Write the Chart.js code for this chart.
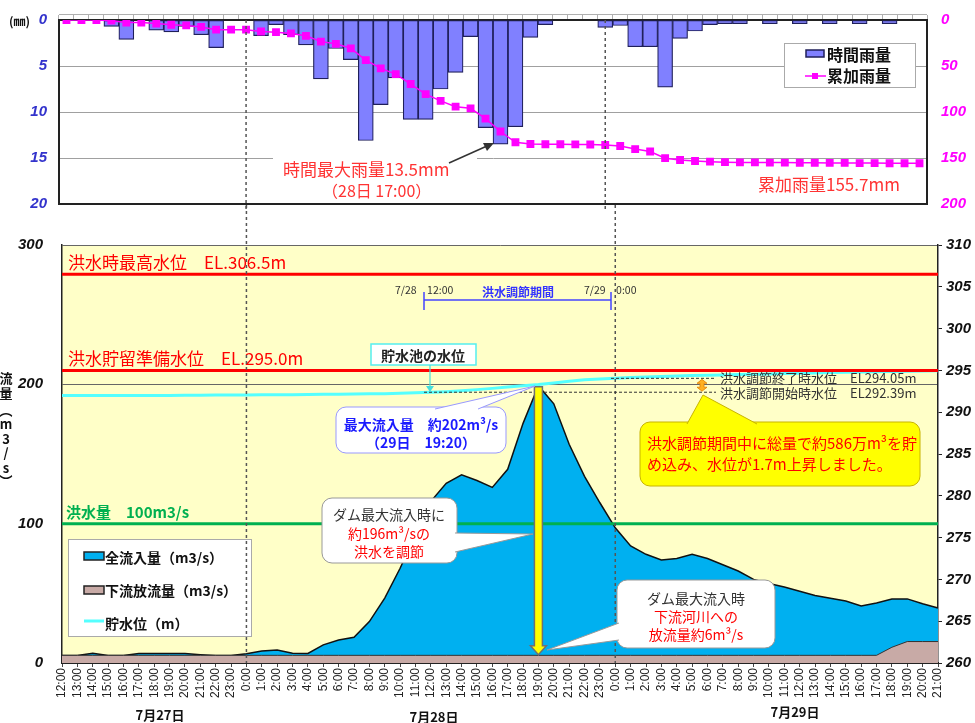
<!DOCTYPE html>
<html>
<head>
<meta charset="utf-8">
<script src="https://cdn.jsdelivr.net/npm/chart.js@4.4.1/dist/chart.umd.min.js"></script>
<style>
  body { margin: 0; background: #fff; width: 975px; height: 723px; overflow: hidden; position: relative; }
  #rain { position: absolute; left: 0; top: 0; }
  #flow { position: absolute; left: 0; top: 205px; }
</style>
</head>
<body>
<canvas id="rain" width="975" height="210"></canvas>
<canvas id="flow" width="975" height="518"></canvas>
<script>
// 7/27 12:00 - 7/29 21:00, hourly
var hours = [
  "12:00","13:00","14:00","15:00","16:00","17:00","18:00","19:00","20:00","21:00","22:00","23:00",
  "0:00","1:00","2:00","3:00","4:00","5:00","6:00","7:00","8:00","9:00","10:00","11:00",
  "12:00","13:00","14:00","15:00","16:00","17:00","18:00","19:00","20:00","21:00","22:00","23:00",
  "0:00","1:00","2:00","3:00","4:00","5:00","6:00","7:00","8:00","9:00","10:00","11:00",
  "12:00","13:00","14:00","15:00","16:00","17:00","18:00","19:00","20:00","21:00"
];
var dayLabels = ["7月27日", "7月28日", "7月29日"];

// hourly rainfall (mm)
var hourlyRain = [
  0, 0, 0, 0.7, 2.1, 0, 1.1, 1.3, 0.7, 1.6, 3.0, 0,
  0, 1.7, 0.5, 1.6, 2.7, 6.4, 3.1, 4.3, 13.1, 9.2, 6.3, 10.8,
  10.8, 7.5, 5.7, 1.8, 11.7, 13.5, 11.6, 1.9, 0.5, 0, 0, 0,
  0.8, 0.6, 2.9, 2.9, 7.3, 2.0, 1.2, 0.5, 0.4, 0.4, 0, 0.4,
  0, 0.4, 0, 0.4, 0, 0.4, 0, 0.4, 0, 0
];
// cumulative rainfall (mm)
var cumRain = [
  0, 0, 0, 0.7, 2.8, 2.8, 3.9, 5.2, 5.9, 7.5, 10.5, 10.5,
  10.5, 12.5, 13.2, 14.6, 17.2, 23.5, 25.9, 30.8, 43.6, 52.6, 58.8, 69.6,
  80.6, 87.9, 94.2, 96.0, 107.2, 121.2, 132.9, 134.8, 135.1, 135.1, 135.2, 135.3,
  135.9, 137.0, 140.3, 142.9, 150.2, 152.2, 153.3, 154.0, 154.5, 154.8, 154.8, 155.0,
  155.0, 155.2, 155.2, 155.3, 155.3, 155.5, 155.5, 155.7, 155.7, 155.7
];
// total inflow (m3/s)
var inflow = [
  5.3, 5.3, 7, 5.3, 5.3, 6.8, 6.8, 6.8, 6.8, 6, 5.3, 5.3,
  6.6, 8.6, 9.4, 7, 6.8, 13, 16.5, 18.5, 29.7, 46.6, 68, 92,
  116, 129, 135, 131, 126, 139, 172, 199, 186, 157, 134, 115,
  97, 84, 78, 74, 75, 78, 75, 70.5, 66, 60, 57, 54.5,
  51.5, 48.5, 46.5, 44.5, 41, 43, 46, 46, 42.5, 39.5
];
// downstream discharge (m3/s)
var outflow = [
  5.5, 5.5, 5.5, 5.5, 5.5, 5.5, 5.5, 5.5, 5.5, 5.5, 5.5, 5.5,
  5.5, 5.5, 5.5, 5.5, 5.5, 5.5, 5.5, 5.5, 5.5, 5.5, 5.5, 5.5,
  5.5, 5.5, 5.5, 5.5, 5.5, 5.5, 5.5, 5.5, 5.5, 5.5, 5.5, 5.5,
  5.5, 5.5, 5.5, 5.5, 5.5, 5.5, 5.5, 5.5, 5.5, 5.5, 5.5, 5.5,
  5.5, 5.5, 5.5, 5.5, 5.5, 5.5, 11.3, 15.4, 15.4, 15.4
];
// reservoir water level (EL m)
var waterLevel = [
  292.0, 292.0, 292.0, 292.0, 292.0, 292.0, 292.0, 292.0, 292.02, 292.03, 292.05, 292.05,
  292.06, 292.08, 292.1, 292.1, 292.12, 292.14, 292.16, 292.18, 292.2, 292.22, 292.26, 292.32,
  292.39, 292.46, 292.56, 292.7, 292.85, 293.0, 293.15, 293.3, 293.5, 293.7, 293.88, 293.97,
  294.05, 294.15, 294.22, 294.28, 294.33, 294.38, 294.42, 294.46, 294.5, 294.54, 294.58, 294.62,
  294.66, 294.7, 294.74, 294.78, 294.82, 294.85, 294.88, 294.91, 294.94, 294.97
];

var numFont = { family: "'Liberation Sans Narrow','Liberation Sans',sans-serif", size: 15, weight: 'bold', style: 'italic' };
var JP = "'Noto Sans CJK JP',sans-serif";

// pin a vertical axis to a fixed width and stop it from padding the chart area
function fixWidth(w) {
  return function (s) { s.width = w; s.paddingTop = 0; s.paddingBottom = 0; };
}

function rr(ctx, x, y, w, h, r) {
  ctx.beginPath();
  ctx.moveTo(x + r, y);
  ctx.arcTo(x + w, y, x + w, y + h, r);
  ctx.arcTo(x + w, y + h, x, y + h, r);
  ctx.arcTo(x, y + h, x, y, r);
  ctx.arcTo(x, y, x + w, y, r);
  ctx.closePath();
}

// rounded box with a wedge pointer: base points b1,b2 (just inside box), tip t
function callout(ctx, x, y, w, h, r, fill, stroke, b1, b2, t) {
  ctx.fillStyle = fill; ctx.strokeStyle = stroke; ctx.lineWidth = 1;
  rr(ctx, x, y, w, h, r); ctx.fill(); ctx.stroke();
  ctx.beginPath(); ctx.moveTo(b1[0], b1[1]); ctx.lineTo(t[0], t[1]); ctx.lineTo(b2[0], b2[1]); ctx.closePath();
  ctx.fill();
  ctx.beginPath(); ctx.moveTo(b1[0], b1[1]); ctx.lineTo(t[0], t[1]); ctx.lineTo(b2[0], b2[1]); ctx.stroke();
}

function txt(ctx, s, x, y, font, color, align) {
  ctx.font = font; ctx.fillStyle = color; ctx.textAlign = align || 'left'; ctx.textBaseline = 'alphabetic';
  ctx.fillText(s, x, y);
}

function dayLines(ctx, xs, top, bottom) {
  ctx.save();
  ctx.strokeStyle = '#555'; ctx.lineWidth = 1.5; ctx.setLineDash([3, 3]);
  xs.forEach(function (x) {
    ctx.beginPath(); ctx.moveTo(x, top); ctx.lineTo(x, bottom); ctx.stroke();
  });
  ctx.restore();
}

var topDecor = {
  id: 'topDecor',
  afterDraw: function (c) {
    var ctx = c.ctx, a = c.chartArea, x = c.scales.x;
    ctx.save();
    ctx.strokeStyle = '#b0b0b0'; ctx.lineWidth = 1;
    ctx.beginPath(); ctx.moveTo(a.left, a.top - 5.5); ctx.lineTo(a.right, a.top - 5.5); ctx.stroke();
    ctx.strokeStyle = '#222'; ctx.lineWidth = 2;
    ctx.beginPath(); ctx.moveTo(a.left, a.bottom); ctx.lineTo(a.right, a.bottom); ctx.stroke();

    dayLines(ctx, [x.getPixelForValue(12), x.getPixelForValue(36)], a.top, c.height);

    // max hourly rain note
    ctx.fillStyle = '#fff'; ctx.fillRect(273, 153, 204, 48);
    txt(ctx, '時間最大雨量13.5mm', 283, 176, '17px ' + JP, '#ff3333');
    txt(ctx, '（28日 17:00）', 322, 197, '16px ' + JP, '#ff3333');
    ctx.strokeStyle = '#333'; ctx.fillStyle = '#333'; ctx.lineWidth = 1.5;
    ctx.beginPath(); ctx.moveTo(449, 163); ctx.lineTo(487, 146); ctx.stroke();
    ctx.beginPath(); ctx.moveTo(494, 143); ctx.lineTo(483, 143); ctx.lineTo(487, 151); ctx.closePath(); ctx.fill();
    txt(ctx, '累加雨量155.7mm', 758, 191, '17px ' + JP, '#ff3333');

    // legend
    ctx.fillStyle = '#fff'; ctx.strokeStyle = '#aaa'; ctx.lineWidth = 1;
    ctx.fillRect(784, 43, 131, 44); ctx.strokeRect(784.5, 43.5, 131, 44);
    ctx.fillStyle = '#8080ff'; ctx.fillRect(806, 50, 18, 7);
    ctx.strokeStyle = '#1f1f5a'; ctx.lineWidth = 1.5; ctx.strokeRect(806, 50, 18, 7);
    ctx.strokeStyle = '#ff00ff'; ctx.lineWidth = 1.5;
    ctx.beginPath(); ctx.moveTo(805, 76); ctx.lineTo(826, 76); ctx.stroke();
    ctx.fillStyle = '#ff00ff'; ctx.fillRect(812, 73, 6, 6);
    txt(ctx, '時間雨量', 827, 61, 'bold 16px ' + JP, '#111');
    txt(ctx, '累加雨量', 827, 82, 'bold 16px ' + JP, '#111');

    txt(ctx, '(㎜)', 9, 26, 'bold 12px ' + JP, '#111');
    ctx.restore();
  }
};

new Chart(document.getElementById('rain'), {
  type: 'bar',
  data: {
    labels: hours,
    datasets: [
      {
        type: 'line', label: '累加雨量', data: cumRain, yAxisID: 'yCum',
        borderColor: '#ff00ff', backgroundColor: '#ff00ff', borderWidth: 1.5,
        pointStyle: 'rect', pointRadius: 4.5, tension: 0, order: 0
      },
      {
        label: '時間雨量', data: hourlyRain, yAxisID: 'yRain',
        backgroundColor: '#8080ff', borderColor: '#1f1f5a', borderWidth: 1.2, borderSkipped: false,
        categoryPercentage: 1, barPercentage: 1, order: 1
      }
    ]
  },
  options: {
    responsive: false,
    animation: false,
    events: [],
    layout: { padding: { bottom: 6 } },
    plugins: { legend: { display: false }, tooltip: { enabled: false } },
    scales: {
      x: {
        position: 'top',
        ticks: { display: false },
        grid: { drawOnChartArea: false, tickLength: 5, color: '#b0b0b0', offset: true },
        border: { color: '#222', width: 2 },
        afterFit: function (s) { s.height = 20; }
      },
      yRain: {
        position: 'left', reverse: true, min: 0, max: 20,
        ticks: { stepSize: 5, color: '#3333cc', font: numFont, padding: 12 },
        grid: { color: '#a0a0a0', drawTicks: false },
        border: { color: '#222', width: 2 },
        afterFit: fixWidth(59)
      },
      yCum: {
        position: 'right', reverse: true, min: 0, max: 200,
        ticks: { stepSize: 50, color: '#ff00ff', font: numFont, padding: 14 },
        grid: { display: false, drawTicks: false },
        border: { color: '#222', width: 2 },
        afterFit: fixWidth(48)
      }
    }
  },
  plugins: [topDecor]
});

var bottomDecor = {
  id: 'bottomDecor',
  beforeDraw: function (c) {
    var ctx = c.ctx, a = c.chartArea;
    ctx.save();
    ctx.fillStyle = '#ffffc8';
    ctx.fillRect(a.left, a.top, a.right - a.left, a.bottom - a.top);
    ctx.restore();
  },
  afterDraw: function (c) {
    var ctx = c.ctx, a = c.chartArea, x = c.scales.x, yQ = c.scales.yQ, yL = c.scales.yL;
    ctx.save();

    // reference levels
    var r1 = yL.getPixelForValue(306.5), r2 = yL.getPixelForValue(295.0), g = yQ.getPixelForValue(100);
    ctx.lineWidth = 3;
    ctx.strokeStyle = '#ff0000';
    ctx.beginPath(); ctx.moveTo(a.left, r1); ctx.lineTo(a.right, r1); ctx.stroke();
    ctx.beginPath(); ctx.moveTo(a.left, r2); ctx.lineTo(a.right, r2); ctx.stroke();
    ctx.strokeStyle = '#00b050';
    ctx.beginPath(); ctx.moveTo(a.left, g); ctx.lineTo(a.right, g); ctx.stroke();
    txt(ctx, '洪水時最高水位　EL.306.5m', 68, r1 - 5, '17px ' + JP, '#ff0000');
    txt(ctx, '洪水貯留準備水位　EL.295.0m', 68, r2 - 5, '17px ' + JP, '#ff0000');
    txt(ctx, '洪水量　100m3/s', 66, g - 6, 'bold 15px ' + JP, '#00b050');

    // legend
    ctx.fillStyle = '#fff'; ctx.strokeStyle = '#aaa'; ctx.lineWidth = 1;
    ctx.fillRect(68, 334, 183, 97); ctx.strokeRect(68.5, 334.5, 183, 97);
    ctx.fillStyle = '#00b0f0'; ctx.fillRect(84, 347, 20, 8);
    ctx.strokeStyle = '#222'; ctx.lineWidth = 1.5; ctx.strokeRect(84, 347, 20, 8);
    ctx.fillStyle = '#c8aaa6'; ctx.fillRect(84, 381, 20, 8); ctx.strokeRect(84, 381, 20, 8);
    ctx.strokeStyle = '#55ffff'; ctx.lineWidth = 3;
    ctx.beginPath(); ctx.moveTo(84, 416); ctx.lineTo(104, 416); ctx.stroke();
    txt(ctx, '全流入量（m3/s）', 105, 358, 'bold 14px ' + JP, '#111');
    txt(ctx, '下流放流量（m3/s）', 105, 391, 'bold 14px ' + JP, '#111');
    txt(ctx, '貯水位（m）', 105, 424, 'bold 14px ' + JP, '#111');

    // day boundaries
    dayLines(ctx, [x.getPixelForValue(12), x.getPixelForValue(36)], 0, a.bottom);

    // flood control period bracket
    var p1 = 424, p2 = 611;
    ctx.strokeStyle = '#4444ff'; ctx.lineWidth = 1.5;
    ctx.beginPath(); ctx.moveTo(p1, 95); ctx.lineTo(p2, 95); ctx.stroke();
    ctx.beginPath(); ctx.moveTo(p1, 87); ctx.lineTo(p1, 105); ctx.moveTo(p2, 87); ctx.lineTo(p2, 105); ctx.stroke();
    txt(ctx, '洪水調節期間', 518, 92, 'bold 12px ' + JP, '#3333ff', 'center');
    txt(ctx, '7/28　12:00', 395, 89, '10.5px ' + JP, '#333');
    txt(ctx, '7/29　0:00', 584, 89, '10.5px ' + JP, '#333');

    // start / end levels
    var e1 = yL.getPixelForValue(292.39), e2 = yL.getPixelForValue(294.05);
    ctx.strokeStyle = '#333'; ctx.lineWidth = 1; ctx.setLineDash([3, 2]);
    ctx.beginPath(); ctx.moveTo(p1, e1); ctx.lineTo(716, e1); ctx.stroke();
    ctx.beginPath(); ctx.moveTo(p2, e2); ctx.lineTo(716, e2); ctx.stroke();
    ctx.setLineDash([]);
    txt(ctx, '洪水調節終了時水位　EL294.05m', 720, e2 + 5, '13px ' + JP, '#333');
    txt(ctx, '洪水調節開始時水位　EL292.39m', 720, e1 + 6, '13px ' + JP, '#333');

    // orange double arrow
    ctx.fillStyle = '#ffb020'; ctx.strokeStyle = '#e08000'; ctx.lineWidth = 0.8;
    ctx.beginPath();
    ctx.moveTo(702, e2 + 1); ctx.lineTo(707, e2 + 5); ctx.lineTo(704, e2 + 5); ctx.lineTo(704, e1 - 5);
    ctx.lineTo(707, e1 - 5); ctx.lineTo(702, e1 - 1); ctx.lineTo(697, e1 - 5); ctx.lineTo(700, e1 - 5);
    ctx.lineTo(700, e2 + 5); ctx.lineTo(697, e2 + 5); ctx.closePath();
    ctx.fill(); ctx.stroke();

    // reservoir level label
    ctx.fillStyle = '#fff'; ctx.strokeStyle = '#55eeee'; ctx.lineWidth = 1.5;
    ctx.fillRect(371, 139, 105, 21); ctx.strokeRect(371, 139, 105, 21);
    txt(ctx, '貯水池の水位', 423, 156, 'bold 14px ' + JP, '#222', 'center');
    ctx.strokeStyle = '#44dddd'; ctx.lineWidth = 1.2;
    ctx.beginPath(); ctx.moveTo(430, 160); ctx.lineTo(430, 184); ctx.stroke();
    ctx.fillStyle = '#44dddd';
    ctx.beginPath(); ctx.moveTo(426, 181); ctx.lineTo(434, 181); ctx.lineTo(430, 187); ctx.closePath(); ctx.fill();

    // yellow arrow at peak inflow
    var px = x.getPixelForValue(31), py = yQ.getPixelForValue(199) + 1, pb = yQ.getPixelForValue(6);
    ctx.fillStyle = '#ffff00'; ctx.strokeStyle = '#707070'; ctx.lineWidth = 1.5;
    ctx.beginPath();
    ctx.moveTo(px - 4, py); ctx.lineTo(px + 4, py); ctx.lineTo(px + 4, pb - 9); ctx.lineTo(px + 8, pb - 9);
    ctx.lineTo(px, pb); ctx.lineTo(px - 8, pb - 9); ctx.lineTo(px - 4, pb - 9); ctx.closePath();
    ctx.fill(); ctx.stroke();

    // callouts
    callout(ctx, 640, 217, 280, 64, 10, '#ffff00', '#c8b400', [687, 219], [757, 219], [703, 190]);
    txt(ctx, '洪水調節期間中に総量で約586万m³を貯', 647, 244, '15px ' + JP, '#ff0000');
    txt(ctx, 'め込み、水位が1.7m上昇しました。', 647, 265, '15px ' + JP, '#ff0000');

    callout(ctx, 336, 202, 170, 46, 10, '#fff', '#9999ff', [435, 204], [478, 204], [535, 181]);
    txt(ctx, '最大流入量　約202m³/s', 421, 225, 'bold 14px ' + JP, '#1a1aff', 'center');
    txt(ctx, '（29日　19:20）', 421, 243, 'bold 14px ' + JP, '#1a1aff', 'center');

    callout(ctx, 322, 293, 135, 65, 10, '#fff', '#999', [455, 328], [455, 347], [533, 329]);
    txt(ctx, 'ダム最大流入時に', 389, 315, '14px ' + JP, '#333', 'center');
    txt(ctx, '約196m³/sの', 389, 334, '14px ' + JP, '#ff0000', 'center');
    txt(ctx, '洪水を調節', 389, 352, '14px ' + JP, '#ff0000', 'center');

    callout(ctx, 617, 375, 158, 68, 10, '#fff', '#999', [619, 418], [619, 435], [547, 445]);
    txt(ctx, 'ダム最大流入時', 696, 399, '14px ' + JP, '#333', 'center');
    txt(ctx, '下流河川への', 696, 417, '14px ' + JP, '#ff0000', 'center');
    txt(ctx, '放流量約6m³/s', 696, 435, '14px ' + JP, '#ff0000', 'center');

    // day labels
    txt(ctx, dayLabels[0], 160, 515, 'bold 13px ' + JP, '#111', 'center');
    txt(ctx, dayLabels[1], 434, 517, 'bold 13px ' + JP, '#111', 'center');
    txt(ctx, dayLabels[2], 795, 512, 'bold 13px ' + JP, '#111', 'center');

    // vertical axis title
    var chars = ['流', '量', '︵', 'm', '3', '/', 's', '︶'];
    var cy = [178, 193, 210, 224, 239, 253, 268, 281];
    chars.forEach(function (ch, i) {
      txt(ctx, ch, 6, cy[i], 'bold 13px ' + JP, '#111', 'center');
    });
    ctx.restore();
  }
};

new Chart(document.getElementById('flow'), {
  type: 'line',
  data: {
    labels: hours,
    datasets: [
      {
        label: '貯水位（m）', data: waterLevel, yAxisID: 'yL',
        borderColor: '#55ffff', borderWidth: 3, pointRadius: 0, fill: false, tension: 0, order: 0
      },
      {
        label: '下流放流量（m3/s）', data: outflow, yAxisID: 'yQ',
        borderColor: '#333', borderWidth: 1, backgroundColor: '#c8aaa6', fill: 'origin',
        pointRadius: 0, tension: 0, order: 1
      },
      {
        label: '全流入量（m3/s）', data: inflow, yAxisID: 'yQ',
        borderColor: '#111', borderWidth: 1.5, backgroundColor: '#00b0f0', fill: 'origin',
        pointRadius: 0, tension: 0, order: 2
      }
    ]
  },
  options: {
    responsive: false,
    animation: false,
    events: [],
    layout: { padding: { top: 40 } },
    plugins: { legend: { display: false }, tooltip: { enabled: false } },
    scales: {
      x: {
        ticks: { autoSkip: false, minRotation: 90, maxRotation: 90, color: '#222', padding: 1,
                 font: { family: "'Liberation Sans',sans-serif", size: 12 } },
        grid: { drawOnChartArea: false, tickLength: 4, color: '#444' },
        border: { color: '#222', width: 2 },
        afterFit: function (s) { s.height = 60; }
      },
      yQ: {
        position: 'left', min: 0, max: 300,
        ticks: { stepSize: 100, color: '#111', font: numFont, padding: 19 },
        grid: { color: '#666', drawTicks: false },
        border: { color: '#222', width: 1.5 },
        afterFit: fixWidth(62)
      },
      yL: {
        position: 'right', min: 260, max: 310,
        ticks: { stepSize: 5, color: '#111', font: numFont, padding: 4 },
        grid: { drawOnChartArea: false, tickLength: 4, color: '#222' },
        border: { color: '#222', width: 1.5 },
        afterFit: fixWidth(37)
      }
    }
  },
  plugins: [bottomDecor]
});
</script>
</body>
</html>
